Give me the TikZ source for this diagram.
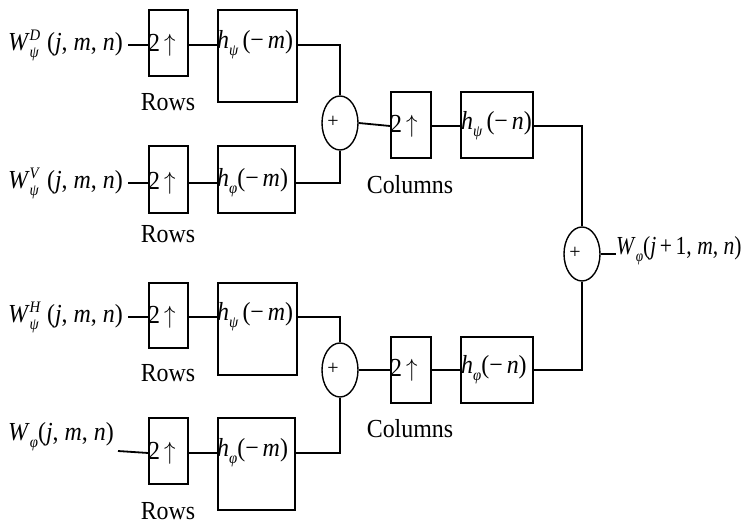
\documentclass[tikz,border=0pt]{standalone}
\usepackage{amsmath}
\usepackage{fontspec}
\setmainfont{Liberation Serif}
\usetikzlibrary{shapes.geometric}
\newcommand{\sq}[1]{\scalebox{0.92}[1]{#1}}
\newcommand{\ssc}[1]{\textit{\fontsize{16}{16}\selectfont #1}}
\tikzset{
  ln/.style={line width=1.8pt},
  box/.style={draw, line width=1.8pt, inner sep=0pt},
  sumnode/.style={draw, ellipse, line width=1.4pt, minimum width=36pt, minimum height=54pt, inner sep=0pt},
  txt/.style={inner sep=0pt, font=\fontsize{26}{28}\selectfont},
  plus/.style={inner sep=0pt, font=\fontsize{20}{22}\selectfont},
}
\begin{document}
\begin{tikzpicture}[x=1pt,y=-1pt]
\useasboundingbox (0,0) rectangle (750,524);
% row up-samplers
\node[box, minimum width=39pt, minimum height=66pt] (u1) at (168.5,43) {};
\node[box, minimum width=39pt, minimum height=67pt] (u2) at (168.5,179.5) {};
\node[box, minimum width=39pt, minimum height=65pt] (u3) at (168.5,315.5) {};
\node[box, minimum width=39pt, minimum height=66pt] (u4) at (168.5,451) {};
\foreach \i/\y in {1/45,2/183,3/317,4/453}{
  \node[txt, anchor=west] (t\i) at (148,\y) {\sq{2\,$\uparrow$}};
}
% row filters
\node[box, minimum width=79pt, minimum height=92pt] (f1) at (257.5,56) {};
\node[box, minimum width=77pt, minimum height=67pt] (f2) at (256.5,179.5) {};
\node[box, minimum width=79pt, minimum height=92pt] (f3) at (257.5,329) {};
\node[box, minimum width=77pt, minimum height=92pt] (f4) at (256.5,464) {};
\node[txt, anchor=west] (ft1) at (217,45) {\sq{\textit{h}\raisebox{-7pt}{\ssc{ψ}}\,(−\,\textit{m})}};
\node[txt, anchor=west] (ft2) at (217,183) {\sq{\textit{h}\raisebox{-7pt}{\ssc{φ}}(−\,\textit{m})}};
\node[txt, anchor=west] (ft3) at (217,317) {\sq{\textit{h}\raisebox{-7pt}{\ssc{ψ}}\,(−\,\textit{m})}};
\node[txt, anchor=west] (ft4) at (217,453) {\sq{\textit{h}\raisebox{-7pt}{\ssc{φ}}(−\,\textit{m})}};
% inputs
\node[txt, anchor=east] (in1) at (123,45) {\sq{\textit{W}\rlap{\raisebox{10pt}{\ssc{D}}}\raisebox{-7pt}{\ssc{ψ}}\,\,(\textit{j}, \textit{m}, \textit{n})}};
\node[txt, anchor=east] (in2) at (123,183) {\sq{\textit{W}\rlap{\raisebox{10pt}{\ssc{V}}}\raisebox{-7pt}{\ssc{ψ}}\,\,(\textit{j}, \textit{m}, \textit{n})}};
\node[txt, anchor=east] (in3) at (123,317) {\sq{\textit{W}\rlap{\raisebox{10pt}{\ssc{H}}}\raisebox{-7pt}{\ssc{ψ}}\,\,(\textit{j}, \textit{m}, \textit{n})}};
\node[txt, anchor=east] (in4) at (114,437) {\sq{\textit{W}\raisebox{-7pt}{\ssc{φ}}(\textit{j}, \textit{m}, \textit{n})}};
\coordinate (s4) at (118,451);
% Rows labels
\foreach \i/\y in {1/102,2/234,3/373,4/511}{
  \node[txt] (r\i) at (168,\y) {\sq{Rows}};
}
% sums
\node[sumnode] (c1) at (340,123) {};
\node[sumnode] (c2) at (340,370) {};
\node[sumnode] (c3) at (582,254) {};
\node[plus] (p1) at (333,122) {+};
\node[plus] (p2) at (333,369) {+};
\node[plus] (p3) at (575,253) {+};
% column up-samplers and filters
\node[box, minimum width=40pt, minimum height=66pt] (cu1) at (411,125) {};
\node[box, minimum width=40pt, minimum height=66pt] (cu2) at (411,370) {};
\node[txt, anchor=west] (ct1) at (390,126) {\sq{2\,$\uparrow$}};
\node[txt, anchor=west] (ct2) at (390,370) {\sq{2\,$\uparrow$}};
\node[box, minimum width=72pt, minimum height=66pt] (cf1) at (497,125) {};
\node[box, minimum width=72pt, minimum height=66pt] (cf2) at (497,370) {};
\node[txt, anchor=west] (cft1) at (461,126) {\sq{\textit{h}\raisebox{-7pt}{\ssc{ψ}}\,(−\,\textit{n})}};
\node[txt, anchor=west] (cft2) at (461,370) {\sq{\textit{h}\raisebox{-7pt}{\ssc{φ}}(−\,\textit{n})}};
\node[txt] (col1) at (410,185) {\sq{Columns}};
\node[txt] (col2) at (410,429) {\sq{Columns}};
% output
\node[txt, anchor=west] (out) at (616,251) {\scalebox{0.83}[1]{\textit{W}\raisebox{-7pt}{\ssc{φ}}(\textit{j}\,+\,1, \textit{m}, \textit{n})}};
% connectors
\draw[ln] (128,45) -- (u1.west |- 0,45);
\draw[ln] (128,183) -- (u2.west |- 0,183);
\draw[ln] (128,317) -- (u3.west |- 0,317);
\draw[ln] (s4) -- (u4.west |- 0,453);
\draw[ln] (u1.east |- 0,45) -- (f1.west |- 0,45);
\draw[ln] (u2.east |- 0,183) -- (f2.west |- 0,183);
\draw[ln] (u3.east |- 0,317) -- (f3.west |- 0,317);
\draw[ln] (u4.east |- 0,453) -- (f4.west |- 0,453);
\draw[ln] (f1.east |- 0,45) -| (c1.north);
\draw[ln] (f2.east |- 0,183) -| (c1.south);
\draw[ln] (f3.east |- 0,317) -| (c2.north);
\draw[ln] (f4.east |- 0,453) -| (c2.south);
\draw[ln] (c1.east) -- (cu1.west |- 0,126);
\draw[ln] (c2.east) -- (cu2.west);
\draw[ln] (cu1.east |- 0,126) -- (cf1.west |- 0,126);
\draw[ln] (cu2.east) -- (cf2.west);
\draw[ln] (cf1.east |- 0,126) -| (c3.north);
\draw[ln] (cf2.east) -| (c3.south);
\draw[ln] (c3.east) -- (out.west |- c3.east);
\end{tikzpicture}
\end{document}
